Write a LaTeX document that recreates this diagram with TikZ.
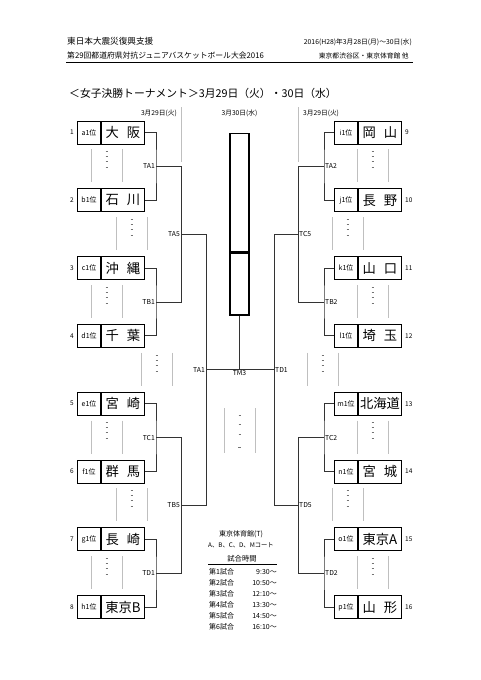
\documentclass[tikz,border=0pt]{standalone}
\usepackage{fontspec}
\setmainfont{Noto Sans CJK JP}
\newcommand\gapdeco[2]{%
  \draw[gl] ({#1},{#2-17}) -- ({#1},{#2+16});
  \draw[gl] ({#1+31},{#2-17}) -- ({#1+31},{#2+16});
  \foreach \dd in {-15,-10,-5,1} {\draw[ds] ({#1+14.5},{#2+\dd}) -- ({#1+16.5},{#2+\dd});}
}
\newcommand\twoch[2]{#1\hspace{8pt}#2}
\begin{document}
\begin{tikzpicture}[x=1pt,y=-1pt,
  lab/.style={draw, line width=0.9pt, minimum width=23pt, minimum height=23pt, inner sep=0pt, font=\fontsize{7}{8}\selectfont},
  nm/.style={draw, line width=0.9pt, minimum width=43pt, minimum height=23pt, inner sep=0pt, font=\fontsize{13.3}{14}\selectfont},
  num/.style={font=\fontsize{6.5}{7}\selectfont, inner sep=1pt},
  br/.style={line width=1pt, draw=black!80},
  tg/.style={font=\fontsize{6.8}{7}\selectfont, inner sep=1pt},
  gl/.style={draw=black!25, line width=0.6pt},
  ds/.style={draw=black!55, line width=0.5pt},
  cb/.style={draw, line width=1.3pt, minimum width=19pt, inner sep=0pt},
  sm/.style={font=\fontsize{6.8}{8}\selectfont, inner sep=0pt}]
\useasboundingbox (0,0) rectangle (481,680);
\fill[white] (0,0) rectangle (481,680);

% header
\node[anchor=base west, font=\fontsize{8.6}{9}\selectfont, inner sep=0pt] (h1) at (67,44) {東日本大震災復興支援};
\node[anchor=base west, font=\fontsize{7.8}{9}\selectfont, inner sep=0pt] (h2) at (67,58) {第29回都道府県対抗ジュニアバスケットボール大会2016};
\node[anchor=base east, sm] (h3) at (412,44) {2016(H28)年3月28日(月)～30日(水)};
\node[anchor=base east, sm] (h4) at (409,58) {東京都渋谷区・東京体育館 他};
\draw[line width=0.6pt] (66,62.5) -- (413,62.5);
\node[anchor=base west, font=\fontsize{10.8}{12}\selectfont, inner sep=0pt] (title) at (69,97) {＜女子決勝トーナメント＞3月29日（火）・30日（水）};

% date headers
\node[anchor=base east, font=\fontsize{6.7}{7}\selectfont, inner sep=0pt] (d1) at (177,115) {3月29日(火)};
\node[anchor=base, font=\fontsize{6.7}{7}\selectfont, inner sep=0pt] (d2) at (239.5,115) {3月30日(水)};
\node[anchor=base west, font=\fontsize{6.7}{7}\selectfont, inner sep=0pt] (d3) at (303,115) {3月29日(火)};
\draw[gl] (181,107) -- (181,162);
\draw[gl] (298,107) -- (298,162);

% left boxes
\node[lab, anchor=east] (La1) at (101,132.5) {a1位};
\node[nm, anchor=west] (L1) at (101,132.5) {\twoch{大}{阪}};
\node[lab, anchor=east] (La2) at (101,200.3) {b1位};
\node[nm, anchor=west] (L2) at (101,200.3) {\twoch{石}{川}};
\node[lab, anchor=east] (La3) at (101,268.1) {c1位};
\node[nm, anchor=west] (L3) at (101,268.1) {\twoch{沖}{縄}};
\node[lab, anchor=east] (La4) at (101,335.9) {d1位};
\node[nm, anchor=west] (L4) at (101,335.9) {\twoch{千}{葉}};
\node[lab, anchor=east] (La5) at (101,403.7) {e1位};
\node[nm, anchor=west] (L5) at (101,403.7) {\twoch{宮}{崎}};
\node[lab, anchor=east] (La6) at (101,471.5) {f1位};
\node[nm, anchor=west] (L6) at (101,471.5) {\twoch{群}{馬}};
\node[lab, anchor=east] (La7) at (101,539.3) {g1位};
\node[nm, anchor=west] (L7) at (101,539.3) {\twoch{長}{崎}};
\node[lab, anchor=east] (La8) at (101,607.1) {h1位};
\node[nm, anchor=west] (L8) at (101,607.1) {東京B};
\foreach \i/\yy in {1/132.5,2/200.3,3/268.1,4/335.9,5/403.7,6/471.5,7/539.3,8/607.1}
  \node[num, anchor=east] (Ln\i) at (75,\yy) {\i};

% right boxes
\node[lab, anchor=east] (Ra9) at (358,132.5) {i1位};
\node[nm, anchor=west] (R9) at (358,132.5) {\twoch{岡}{山}};
\node[lab, anchor=east] (Ra10) at (358,200.3) {j1位};
\node[nm, anchor=west] (R10) at (358,200.3) {\twoch{長}{野}};
\node[lab, anchor=east] (Ra11) at (358,268.1) {k1位};
\node[nm, anchor=west] (R11) at (358,268.1) {\twoch{山}{口}};
\node[lab, anchor=east] (Ra12) at (358,335.9) {l1位};
\node[nm, anchor=west] (R12) at (358,335.9) {\twoch{埼}{玉}};
\node[lab, anchor=east] (Ra13) at (358,403.7) {m1位};
\node[nm, anchor=west] (R13) at (358,403.7) {北海道};
\node[lab, anchor=east] (Ra14) at (358,471.5) {n1位};
\node[nm, anchor=west] (R14) at (358,471.5) {\twoch{宮}{城}};
\node[lab, anchor=east] (Ra15) at (358,539.3) {o1位};
\node[nm, anchor=west] (R15) at (358,539.3) {東京A};
\node[lab, anchor=east] (Ra16) at (358,607.1) {p1位};
\node[nm, anchor=west] (R16) at (358,607.1) {\twoch{山}{形}};
\foreach \i/\yy in {9/132.5,10/200.3,11/268.1,12/335.9,13/403.7,14/471.5,15/539.3,16/607.1}
  \node[num, anchor=west] (Rn\i) at (404,\yy) {\i};

% gap decorations
\gapdeco{91}{166.4}
\gapdeco{116}{234.2}
\gapdeco{91}{302}
\gapdeco{141}{369.8}
\gapdeco{91}{437.6}
\gapdeco{116}{505.4}
\gapdeco{91}{573.2}
\gapdeco{357}{166.4}
\gapdeco{332}{234.2}
\gapdeco{357}{302}
\gapdeco{307}{369.8}
\gapdeco{357}{437.6}
\gapdeco{332}{505.4}
\gapdeco{357}{573.2}

% center box
\node[cb, minimum height=118pt, anchor=north] (M1) at (239.5,133) {};
\node[cb, minimum height=62pt, anchor=north] (M2) at (M1.south) {};

% center deco
\draw[gl] (224,408) -- (224,453);
\draw[gl] (255,408) -- (255,453);
\foreach \dd in {415,424,434} {\draw[ds] (238.5,\dd) -- (240.5,\dd);}
\draw[ds, line width=0.7pt] (238,447) -- (241,447);

% left bracket coordinates
\coordinate (jA1) at (156,166.4);
\coordinate (jB1) at (156,302);
\coordinate (jC1) at (156,437.6);
\coordinate (jD1) at (156,573.2);
\coordinate (pA) at (181,166.4);
\coordinate (pB) at (181,302);
\coordinate (pC) at (181,437.6);
\coordinate (pD) at (181,573.2);
\coordinate (jA5) at (181,234.2);
\coordinate (jB5) at (181,505.4);
\coordinate (qA5) at (206,234.2);
\coordinate (qB5) at (206,505.4);
\coordinate (fL) at (206,369.8);
\coordinate (fM) at (239.5,369.8);
\coordinate (fR) at (274,369.8);
% right bracket coordinates
\coordinate (kA2) at (324,166.4);
\coordinate (kB2) at (324,302);
\coordinate (kC2) at (324,437.6);
\coordinate (kD2) at (324,573.2);
\coordinate (rA) at (298,166.4);
\coordinate (rB) at (298,302);
\coordinate (rC) at (298,437.6);
\coordinate (rD) at (298,573.2);
\coordinate (kC5) at (298,234.2);
\coordinate (kD5) at (298,505.4);
\coordinate (sC5) at (274,234.2);
\coordinate (sD5) at (274,505.4);

\draw[br] (L1.east) -| (jA1) |- (L2.east);
\draw[br] (L3.east) -| (jB1) |- (L4.east);
\draw[br] (L5.east) -| (jC1) |- (L6.east);
\draw[br] (L7.east) -| (jD1) |- (L8.east);
\draw[br] (jA1) -- (pA) -- (pB) -- (jB1);
\draw[br] (jC1) -- (pC) -- (pD) -- (jD1);
\draw[br] (jA5) -- (qA5) -- (qB5) -- (jB5);
\draw[br] (Ra9.west) -| (kA2) |- (Ra10.west);
\draw[br] (Ra11.west) -| (kB2) |- (Ra12.west);
\draw[br] (Ra13.west) -| (kC2) |- (Ra14.west);
\draw[br] (Ra15.west) -| (kD2) |- (Ra16.west);
\draw[br] (kA2) -- (rA) -- (rB) -- (kB2);
\draw[br] (kC2) -- (rC) -- (rD) -- (kD2);
\draw[br] (kC5) -- (sC5) -- (sD5) -- (kD5);
\draw[br] (fL) -- (fR);
\draw[br] (M2.south) -- (fM);

% match labels
\node[tg, anchor=east] (tTA1) at (jA1) {TA1};
\node[tg, anchor=east] (tTB1) at (jB1) {TB1};
\node[tg, anchor=east] (tTC1) at (jC1) {TC1};
\node[tg, anchor=east] (tTD1) at (jD1) {TD1};
\node[tg, anchor=east] (tTA5) at (jA5) {TA5};
\node[tg, anchor=east] (tTB5) at (jB5) {TB5};
\node[tg, anchor=west] (tTA2) at (kA2) {TA2};
\node[tg, anchor=west] (tTB2) at (kB2) {TB2};
\node[tg, anchor=west] (tTC2) at (kC2) {TC2};
\node[tg, anchor=west] (tTD2) at (kD2) {TD2};
\node[tg, anchor=west] (tTC5) at (kC5) {TC5};
\node[tg, anchor=west] (tTD5) at (kD5) {TD5};
\node[tg, anchor=east] (tFA1) at (fL) {TA1};
\node[tg, anchor=west] (tFD1) at (fR) {TD1};
\node[tg, anchor=north] (tTM3) at (fM) {TM3};

% legend
\node[anchor=base, font=\fontsize{7}{8}\selectfont, inner sep=0pt] (lg1) at (241,536) {東京体育館(T)};
\node[anchor=base, font=\fontsize{6.3}{7}\selectfont, inner sep=0pt] (lg2) at (241,547) {A、B、C、D、Mコート};
\node[anchor=base, font=\fontsize{7.3}{8}\selectfont, inner sep=0pt] (lg3) at (242,561.5) {試合時間};
\draw[line width=0.6pt] (208,564) -- (277,564);
\foreach \k/\t/\yy in {1/9:30/574,2/10:50/585,3/12:10/596,4/13:30/607,5/14:50/618,6/16:10/629} {
  \node[anchor=base west, font=\fontsize{7}{8}\selectfont, inner sep=0pt] (sa\k) at (209,\yy) {第\k 試合};
  \node[anchor=base east, font=\fontsize{7}{8}\selectfont, inner sep=0pt] (sb\k) at (277,\yy) {\t～};
}
\end{tikzpicture}
\end{document}
